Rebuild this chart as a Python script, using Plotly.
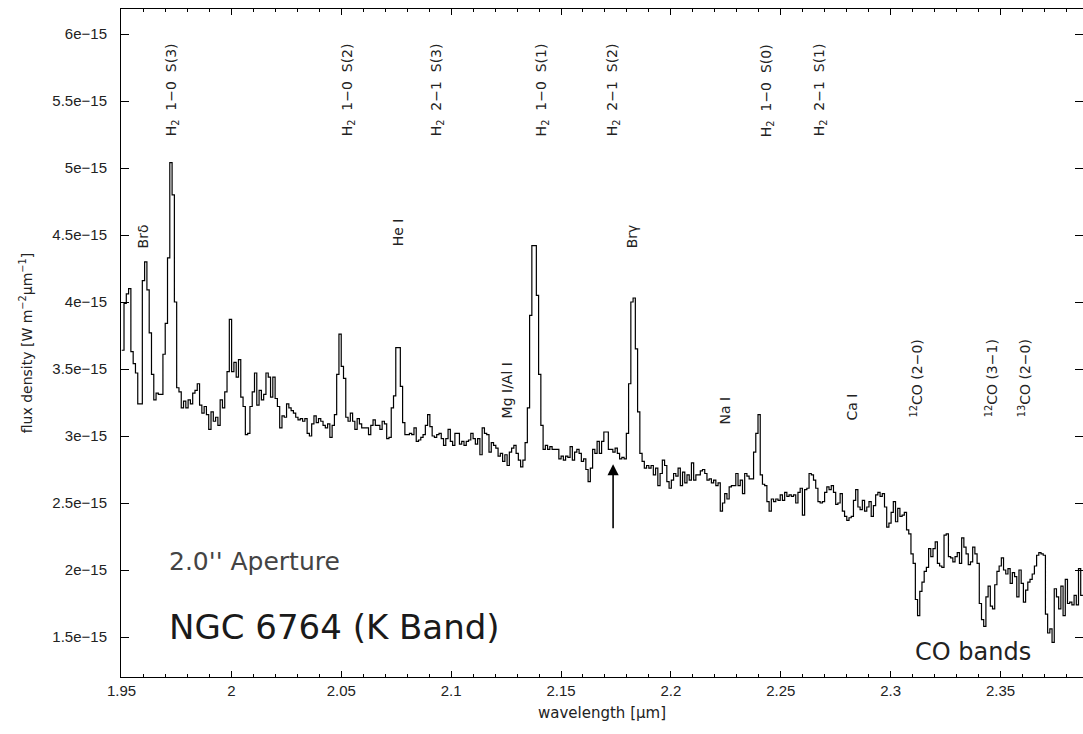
import numpy as np
import plotly.graph_objects as go

# ---------------- data (flux in units of 1e-15 W m^-2 um^-1) ----------------
seg_edges_um = [1.9501, 2.0324, 2.1224, 2.2043, 2.2952, 2.3875]

flux_seg1 = [3.64, 3.99, 4.06, 4.10, 3.63, 3.54, 3.47, 3.24, 3.24, 4.16,
             4.30, 4.09, 3.77, 3.46, 3.27, 3.32, 3.31, 3.31, 3.61, 3.84,
             4.33, 5.04, 4.80, 4.00, 3.36, 3.33, 3.21, 3.26, 3.21, 3.27,
             3.24, 3.32, 3.34, 3.39, 3.23, 3.17, 3.22, 3.16, 3.05, 3.18,
             3.11, 3.14, 3.08, 3.27, 3.21, 3.33, 3.48, 3.87, 3.48, 3.55,
             3.44, 3.57, 3.29, 3.22, 3.01, 3.02, 3.22, 3.33, 3.47, 3.23,
             3.34, 3.27, 3.31, 3.47, 3.44, 3.29, 3.44, 3.28, 3.22, 3.06,
             3.15, 3.14, 3.24, 3.21, 3.19, 3.17, 3.14, 3.12, 3.13]

flux_seg2 = [3.11, 3.13, 3.02, 3.00, 3.09, 3.15, 3.10, 3.13, 3.11, 3.08,
             3.06, 3.09, 2.99, 3.08, 3.16, 3.46, 3.76, 3.52, 3.43, 3.14,
             3.11, 3.17, 3.11, 3.05, 3.13, 3.09, 3.06, 3.06, 3.06, 3.01,
             3.08, 3.12, 3.08, 3.08, 3.05, 3.11, 3.09, 2.98, 2.99, 3.21,
             3.30, 3.66, 3.66, 3.37, 3.10, 3.01, 3.01, 3.02, 3.01, 3.06,
             2.96, 2.97, 2.99, 3.01, 3.08, 3.16, 3.07, 3.00, 2.99, 3.01,
             3.02, 2.98, 2.93, 2.98, 3.05, 2.96, 2.93, 3.02, 3.02, 2.94,
             2.96, 2.93, 2.96, 2.97, 3.02, 2.98, 2.94, 2.98, 2.86, 3.06,
             3.02, 3.01, 2.88, 2.95, 2.93, 2.91, 2.85]

flux_seg3 = [2.87, 2.81, 2.86, 2.78, 2.88, 2.91, 2.93, 2.87, 2.82, 2.77,
             2.82, 2.95, 3.21, 3.90, 4.42, 4.42, 4.05, 3.46, 3.08, 2.90,
             2.93, 2.90, 2.92, 2.90, 2.90, 2.90, 2.83, 2.85, 2.82, 2.85,
             2.84, 2.92, 2.82, 2.88, 2.90, 2.87, 2.81, 2.83, 2.75, 2.66,
             2.76, 2.90, 2.87, 2.96, 2.87, 2.96, 3.03, 3.03, 2.90, 2.90,
             2.88, 2.91, 2.87, 2.83, 2.84, 2.83, 3.02, 3.39, 4.00, 4.03,
             3.65, 3.18, 2.87, 2.81, 2.76, 2.78, 2.76, 2.78, 2.71, 2.76,
             2.63, 2.72, 2.82, 2.78, 2.66, 2.61, 2.67, 2.72, 2.70, 2.76]

flux_seg4 = [2.63, 2.73, 2.65, 2.71, 2.67, 2.80, 2.67, 2.71, 2.71, 2.74,
             2.75, 2.72, 2.67, 2.68, 2.65, 2.67, 2.63, 2.65, 2.44, 2.50,
             2.57, 2.53, 2.62, 2.63, 2.63, 2.72, 2.63, 2.67, 2.57, 2.72,
             2.70, 2.68, 2.68, 2.88, 3.02, 3.16, 2.71, 2.64, 2.63, 2.51,
             2.44, 2.53, 2.51, 2.53, 2.52, 2.56, 2.52, 2.58, 2.55, 2.56,
             2.55, 2.56, 2.50, 2.58, 2.61, 2.41, 2.60, 2.61, 2.72, 2.71,
             2.67, 2.61, 2.51, 2.50, 2.51, 2.58, 2.62, 2.60, 2.63, 2.58,
             2.49, 2.50, 2.57, 2.44, 2.40, 2.37, 2.39, 2.40, 2.52, 2.60,
             2.47, 2.45, 2.52, 2.44, 2.47, 2.51, 2.40, 2.48, 2.56, 2.58]

flux_seg5 = [2.55, 2.57, 2.47, 2.32, 2.35, 2.43, 2.51, 2.36, 2.46, 2.40,
             2.41, 2.43, 2.30, 2.27, 2.12, 2.05, 1.78, 1.66, 1.84, 1.91,
             1.99, 2.02, 2.16, 2.10, 2.16, 2.21, 2.05, 2.03, 2.02, 2.26,
             2.27, 2.10, 2.09, 2.06, 2.10, 2.13, 2.05, 2.24, 2.17, 2.12,
             2.04, 2.06, 2.17, 2.12, 2.05, 1.75, 1.63, 1.58, 1.80, 1.88,
             1.73, 1.71, 1.89, 1.99, 2.03, 2.09, 2.00, 1.97, 2.01, 1.90,
             1.98, 1.95, 1.80, 2.00, 1.90, 1.76, 1.85, 1.91, 1.93, 1.97,
             2.03, 2.11, 2.13, 2.12, 2.11, 1.67, 1.53, 1.56, 1.46, 1.86,
             1.80, 1.71, 1.88, 1.66, 1.93, 1.75, 1.76, 1.74, 1.81, 1.74,
             2.01, 1.81]

flux_segments = [flux_seg1, flux_seg2, flux_seg3, flux_seg4, flux_seg5]

# line identifications (text, wavelength, flux level of label centre)
SP = "\u00a0 "
top_labels = ["H<sub>2</sub>" + SP + "1−0" + SP + "S(3)", "H<sub>2</sub>" + SP + "1−0" + SP + "S(2)",
              "H<sub>2</sub>" + SP + "2−1" + SP + "S(3)", "H<sub>2</sub>" + SP + "1−0" + SP + "S(1)",
              "H<sub>2</sub>" + SP + "2−1" + SP + "S(2)", "H<sub>2</sub>" + SP + "1−0" + SP + "S(0)",
              "H<sub>2</sub>" + SP + "2−1" + SP + "S(1)"]
top_label_wl = [1.9730, 2.0531, 2.0936, 2.1414, 2.1737, 2.2437, 2.2679]
top_label_flux = [5.58] * 7

other_labels = ["Brδ", "He I", "Brγ", "Mg I/Al I", "Na I", "Ca I",
                "<sup>12</sup>CO (2−0)", "<sup>12</sup>CO (3−1)", "<sup>13</sup>CO (2−0)"]
other_label_wl = [1.9598, 2.0758, 2.1823, 2.1254, 2.2246, 2.2824, 2.3120, 2.3461, 2.3611]
other_label_flux = [4.49, 4.52, 4.49, 3.34, 3.19, 3.22, 3.43, 3.43, 3.43]

arrow_wl = 2.1737
arrow_tip_flux = 2.79
arrow_tail_flux = 2.30

UNIT = 1e-15

# ---------------- build step spectrum ----------------
wl = []
fl = []
for a, b, vals in zip(seg_edges_um[:-1], seg_edges_um[1:], flux_segments):
    n = len(vals)
    edges = np.linspace(a, b, n + 1)[:-1]
    wl.extend(edges.tolist())
    fl.extend(vals)
wl.append(seg_edges_um[-1])
fl.append(flux_segments[-1][-1])
fl = np.array(fl) * UNIT

TICKFONT = "Liberation Sans"
LABELFONT = "DejaVu Sans"

fig = go.Figure()
fig.add_trace(go.Scatter(x=wl, y=fl, mode="lines", line=dict(color="black", width=1.2, shape="hv"),
                         showlegend=False, hoverinfo="skip"))

ann = []
for t, x, y in zip(top_labels, top_label_wl, top_label_flux):
    ann.append(dict(x=x, y=y * UNIT, xref="x", yref="y", text=t, textangle=-90, showarrow=False,
                    font=dict(family=LABELFONT, size=14, color="#222")))
for t, x, y in zip(other_labels, other_label_wl, other_label_flux):
    ann.append(dict(x=x, y=y * UNIT, xref="x", yref="y", text=t, textangle=-90, showarrow=False,
                    font=dict(family=LABELFONT, size=14, color="#222")))

ann.append(dict(x=arrow_wl, y=arrow_tip_flux * UNIT, ax=arrow_wl, ay=arrow_tail_flux * UNIT,
                xref="x", yref="y", axref="x", ayref="y", text="", showarrow=True,
                arrowhead=2, arrowsize=1.4, arrowwidth=1.6, arrowcolor="black"))

ann.append(dict(x=1.9708, y=2.06 * UNIT, xref="x", yref="y", xanchor="left", yanchor="middle",
                text="2.0'' Aperture", showarrow=False,
                font=dict(family=LABELFONT, size=25, color="#444")))
ann.append(dict(x=1.9708, y=1.575 * UNIT, xref="x", yref="y", xanchor="left", yanchor="middle",
                text="NGC 6764 (K Band)", showarrow=False,
                font=dict(family=LABELFONT, size=34, color="#1a1a1a")))
ann.append(dict(x=2.3102, y=1.39 * UNIT, xref="x", yref="y", xanchor="left", yanchor="middle",
                text="CO bands", showarrow=False,
                font=dict(family=LABELFONT, size=24, color="#222")))

fig.update_layout(
    width=1083, height=734,
    margin=dict(l=121, r=0, t=9, b=57),
    plot_bgcolor="white", paper_bgcolor="white",
    annotations=ann,
    font=dict(family=TICKFONT, size=15, color="#222"),
)
fig.update_xaxes(
    range=[1.94977, 2.38754], tick0=1.95, dtick=0.05,
    ticks="inside", ticklen=6, tickcolor="black", tickwidth=1,
    minor=dict(dtick=0.01, tick0=1.95, ticks="inside", ticklen=3, tickcolor="black"),
    showline=True, linecolor="black", linewidth=1, mirror="allticks",
    showgrid=False, zeroline=False,
    tickfont=dict(family=TICKFONT, size=15, color="#222"),
    title=dict(text="wavelength [µm]", font=dict(family=LABELFONT, size=15, color="#222"), standoff=9),
)
fig.update_yaxes(
    range=[1.2015e-15, 6.1866e-15], tick0=0, dtick=0.5e-15, exponentformat="e", showexponent="all",
    ticks="inside", ticklen=8, tickcolor="black", tickwidth=1,
    minor=dict(dtick=0.1e-15, tick0=0, ticks="inside", ticklen=4, tickcolor="black"),
    showline=True, linecolor="black", linewidth=1, mirror="allticks",
    showgrid=False, zeroline=False,
    tickfont=dict(family=TICKFONT, size=15, color="#222"), ticklabelstandoff=10,
    title=dict(text="flux density [W m<sup>−2</sup>µm<sup>−1</sup>]",
               font=dict(family=LABELFONT, size=14, color="#222"), standoff=16),
)

fig.write_html("out.html")
